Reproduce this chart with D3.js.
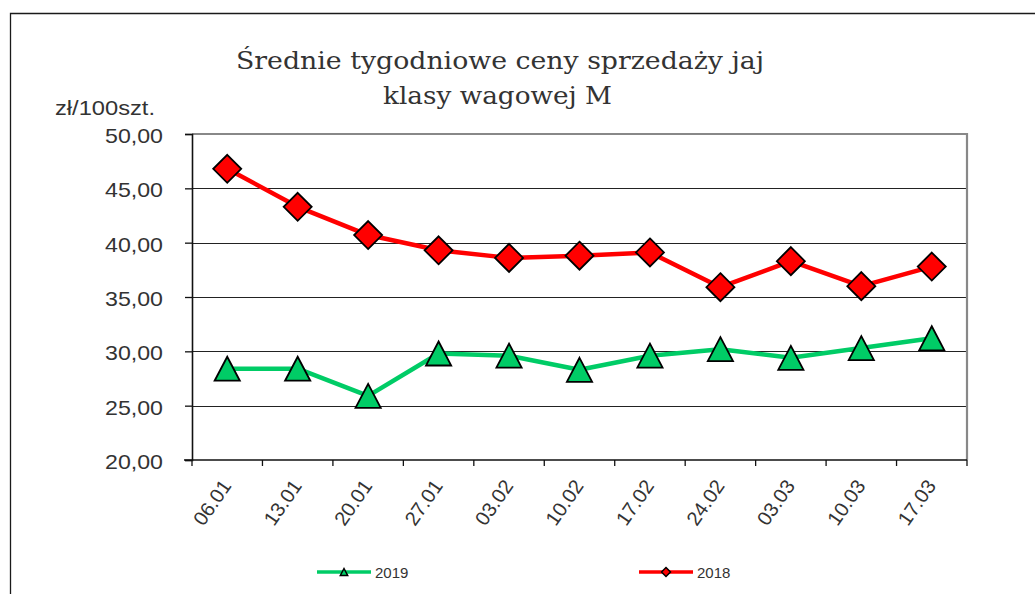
<!DOCTYPE html>
<html>
<head>
<meta charset="utf-8">
<style>
    body { margin: 0; background: #fff; font-family: Arial, "Liberation Sans", sans-serif; }
    svg { display: block; }
</style>
<script src="https://cdn.jsdelivr.net/npm/d3@7"></script>
</head>
<body>
<svg id="chart"></svg>
<script>
// data
let weeks = ["06.01", "13.01", "20.01", "27.01", "03.02", "10.02", "17.02", "24.02", "03.03", "10.03", "17.03"]
let prices2019 = [28.4, 28.4, 25.9, 29.8, 29.6, 28.3, 29.6, 30.2, 29.4, 30.3, 31.2]
let prices2018 = [46.8, 43.3, 40.7, 39.3, 38.6, 38.8, 39.1, 35.9, 38.3, 36.0, 37.8]
let yTicks = [20, 25, 30, 35, 40, 45, 50]
let titleLines = ["Średnie tygodniowe ceny sprzedaży jaj", "klasy wagowej M"]
let unitLabel = "zł/100szt."

let width = 1035, height = 594
let margin = { top: 134, left: 192, right: 68, bottom: 134 }
let svg = d3.select("#chart").attr("width", width).attr("height", height)

// outer frame (top and left edges visible)
svg.append("path")
    .attr("d", `M10.5,${height} V13.5 H${width}`)
    .attr("fill", "none").attr("stroke", "#1a1a1a").attr("stroke-width", 1.3)

let x = d3.scaleBand().domain(weeks).range([margin.left, width - margin.right])
let y = d3.scaleLinear().domain([20, 50]).range([height - margin.bottom, margin.top])
let cx = d => x(d) + x.bandwidth() / 2

// gridlines
svg.append("g").selectAll("line").data(yTicks.filter(t => t > 20 && t < 50)).enter().append("line")
    .attr("x1", margin.left).attr("x2", width - margin.right)
    .attr("y1", d => Math.round(y(d)) + 0.5).attr("y2", d => Math.round(y(d)) + 0.5)
    .attr("stroke", "#222").attr("stroke-width", 1)

// plot area border top + right
svg.append("path")
    .attr("d", `M${margin.left},${y(50)} H${width - margin.right} V${y(20)}`)
    .attr("fill", "none").attr("stroke", "#888").attr("stroke-width", 2.2)

// y axis
let yAxis = svg.append("g")
    .attr("transform", `translate(${margin.left},0)`)
    .call(d3.axisLeft(y).tickValues(yTicks).tickSize(7).tickPadding(22)
        .tickFormat(d => d3.format(".2f")(d).replace(".", ",")))
yAxis.select(".domain").attr("stroke", "#111").attr("stroke-width", 1.6)
yAxis.selectAll(".tick line").attr("stroke", "#111").attr("stroke-width", 1.3)
yAxis.selectAll("text").attr("font-size", 21).attr("fill", "#333").attr("dy", "0.41em")
    .attr("font-family", "Arial, 'Liberation Sans', sans-serif")
    .attr("textLength", 58).attr("lengthAdjust", "spacingAndGlyphs")

// x axis: ticks on category boundaries
let xAxisG = svg.append("g").attr("transform", `translate(0,${y(20)})`)
xAxisG.append("line")
    .attr("x1", margin.left - 8).attr("x2", width - margin.right)
    .attr("stroke", "#111").attr("stroke-width", 1.6)
let bounds = weeks.map(w => x(w)).concat([x(weeks[weeks.length - 1]) + x.bandwidth()])
xAxisG.selectAll(".xt").data(bounds).enter().append("line")
    .attr("x1", d => d).attr("x2", d => d).attr("y1", 0).attr("y2", 6)
    .attr("stroke", "#111").attr("stroke-width", 1.3)
xAxisG.selectAll(".xl").data(weeks).enter().append("text")
    .attr("transform", d => `translate(${cx(d) + 5},${26}) rotate(-55)`)
    .attr("text-anchor", "end")
    .attr("font-size", 20).attr("fill", "#333")
    .text(d => d)

// lines
let line = d3.line().x((d, i) => cx(weeks[i])).y(d => y(d))
svg.append("path").datum(prices2018).attr("d", line)
    .attr("fill", "none").attr("stroke", "#ff0000").attr("stroke-width", 4.5).attr("stroke-linejoin", "round")
svg.append("path").datum(prices2019).attr("d", line)
    .attr("fill", "none").attr("stroke", "#00cc66").attr("stroke-width", 4.5).attr("stroke-linejoin", "round")

// markers
let diamond = s => `M0,${-s} L${s},0 L0,${s} L${-s},0 Z`
let triangle = s => `M0,${-s} L${s * 1.05},${s} L${-s * 1.05},${s} Z`
svg.append("g").selectAll("path").data(prices2018).enter().append("path")
    .attr("transform", (d, i) => `translate(${cx(weeks[i])},${y(d)})`)
    .attr("d", diamond(14))
    .attr("fill", "#ff0000").attr("stroke", "#000").attr("stroke-width", 1.8).attr("stroke-linejoin", "miter")
svg.append("g").selectAll("path").data(prices2019).enter().append("path")
    .attr("transform", (d, i) => `translate(${cx(weeks[i])},${y(d)})`)
    .attr("d", triangle(12))
    .attr("fill", "#00cc66").attr("stroke", "#000").attr("stroke-width", 1.8)

// title
let titleWidths = [528, 229]
svg.append("g").selectAll("text").data(titleLines).enter().append("text")
    .attr("x", (d, i) => i === 0 ? 500 : 497.5).attr("y", (d, i) => 69 + i * 35)
    .attr("text-anchor", "middle")
    .attr("font-family", "'DejaVu Serif', serif").attr("font-size", 24).attr("fill", "#333")
    .attr("textLength", (d, i) => titleWidths[i]).attr("lengthAdjust", "spacingAndGlyphs")
    .text(d => d)

// unit label
svg.append("text").attr("x", 55).attr("y", 115)
    .attr("font-size", 20).attr("fill", "#333")
    .attr("textLength", 100).attr("lengthAdjust", "spacingAndGlyphs")
    .text(unitLabel)

// legend
let legend = [
    { name: "2019", color: "#00cc66", shape: "tri", x: 317 },
    { name: "2018", color: "#ff0000", shape: "dia", x: 639 }
]
let lg = svg.append("g").selectAll("g").data(legend).enter().append("g")
    .attr("transform", d => `translate(${d.x},572)`)
lg.append("line").attr("x1", 0).attr("x2", 54)
    .attr("stroke", d => d.color).attr("stroke-width", 3.5)
lg.append("path")
    .attr("transform", "translate(27,0)")
    .attr("d", d => d.shape === "tri" ? triangle(3.5) : diamond(4.5))
    .attr("fill", d => d.color).attr("stroke", "#000").attr("stroke-width", 1.5)
lg.append("text").attr("x", 58).attr("y", 5.5)
    .attr("font-size", 15).attr("fill", "#333").text(d => d.name)
</script>
</body>
</html>
